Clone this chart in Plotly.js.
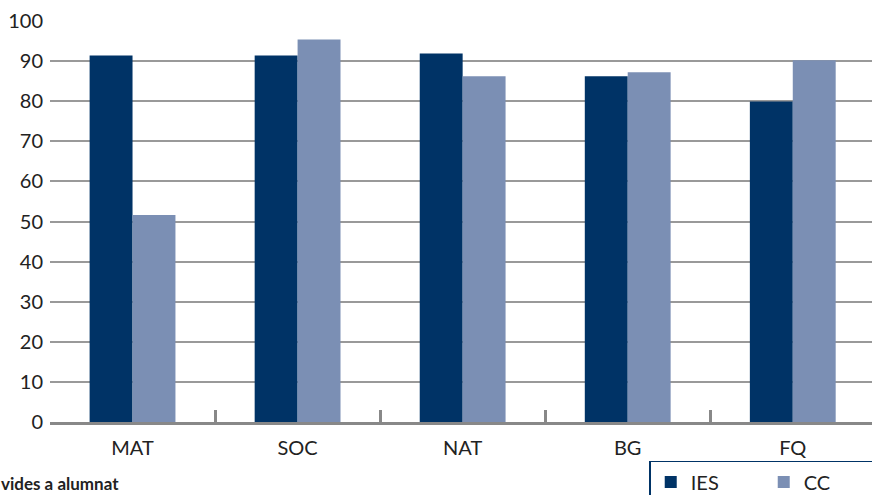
<!DOCTYPE html>
<html>
<head>
<meta charset="utf-8">
<script src="https://cdn.plot.ly/plotly-3.0.1.min.js"></script>
<style>html,body{margin:0;padding:0;background:#fff;}#chart{width:872px;height:495px;}</style>
</head>
<body>
<div id="chart"></div>
<script>
const categories = ["MAT", "SOC", "NAT", "BG", "FQ"];
const iesValues = [91.4, 91.4, 91.9, 86.2, 79.9];
const ccValues = [51.6, 95.4, 86.2, 87.2, 90.2];
const seriesNames = ["IES", "CC"];
const yTicks = [0, 10, 20, 30, 40, 50, 60, 70, 80, 90, 100];

const font = "Lato, 'Open Sans', sans-serif";

const traces = [
  {type: "bar", name: seriesNames[0], x: categories, y: iesValues,
   marker: {color: "#003366"}},
  {type: "bar", name: seriesNames[1], x: categories, y: ccValues,
   marker: {color: "#7b8fb4"}}
];

const layout = {
  width: 872, height: 495,
  margin: {l: 50, r: 0, t: 21, b: 73, autoexpand: false},
  paper_bgcolor: "#fff", plot_bgcolor: "#fff",
  barmode: "group", bargap: 0.48, bargroupgap: 0,
  font: {family: font, size: 20, color: "#222"},
  xaxis: {
    type: "category", range: [-0.5, 4.48], automargin: false,
    showline: true, linecolor: "#888", linewidth: 3,
    ticks: "inside", tickson: "boundaries", ticklen: 12, tickwidth: 3, tickcolor: "#888",
    showgrid: false, zeroline: false,
    tickfont: {family: font, size: 20, color: "#222"},
    ticklabelstandoff: 6
  },
  yaxis: {
    range: [0, 100], tickvals: yTicks, ticktext: yTicks.map(String), automargin: false,
    showgrid: true, gridcolor: "#999", gridwidth: 2,
    zeroline: false, showline: false, ticks: "",
    tickfont: {family: font, size: 20, color: "#222"},
    ticklabelstandoff: 6
  },
  showlegend: true,
  legend: {
    orientation: "h", x: 0.729, xanchor: "left", y: -0.097, yanchor: "top",
    bordercolor: "#003366", borderwidth: 1.5, bgcolor: "#fff",
    font: {family: font, size: 20, color: "#222"},
    entrywidth: 68, entrywidthmode: "pixels", traceorder: "normal"
  },
  annotations: [{
    text: "<b>vides a alumnat</b>", xref: "paper", yref: "paper",
    x: -0.062, xanchor: "left", y: -0.122, yanchor: "top", showarrow: false,
    font: {family: font, size: 17, color: "#222"}
  }]
};

Plotly.newPlot("chart", traces, layout, {displayModeBar: false, staticPlot: true});
</script>
</body>
</html>
